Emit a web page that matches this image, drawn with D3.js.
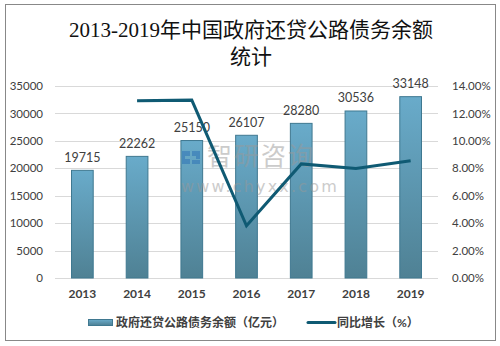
<!DOCTYPE html>
<html><head><meta charset="utf-8">
<script src="https://cdn.jsdelivr.net/npm/d3@7/dist/d3.min.js"></script>
<style>
html,body{margin:0;padding:0;background:#fff;}
svg{display:block;}
</style></head>
<body>
<script>
const years = ["2013","2014","2015","2016","2017","2018","2019"];
const debt = [19715,22262,25150,26107,28280,30536,33148];
const growthYears = ["2014","2015","2016","2017","2018","2019"];
const growth = [0.1292,0.1297,0.0381,0.0832,0.0798,0.0855];
const leftTicks = [0,5000,10000,15000,20000,25000,30000,35000];
const rightTicks = [0,0.02,0.04,0.06,0.08,0.10,0.12,0.14];
const titleLines = ["2013-2019年中国政府还贷公路债务余额","统计"];
const legendLabels = ["政府还贷公路债务余额（亿元）","同比增长（%）"];

const W=500,H=346;
const svg=d3.select("body").append("svg").attr("width",W).attr("height",H);
const defs=svg.append("defs");
const grad=defs.append("linearGradient").attr("id","bg").attr("x1",0).attr("y1",0).attr("x2",0).attr("y2",1);
grad.append("stop").attr("offset","0%").attr("stop-color","#69abca");
grad.append("stop").attr("offset","100%").attr("stop-color","#4f8194");
const lgrad=defs.append("linearGradient").attr("id","lg").attr("x1",0).attr("y1",0).attr("x2",0).attr("y2",1);
lgrad.append("stop").attr("offset","0%").attr("stop-color","#6aaccb");
lgrad.append("stop").attr("offset","100%").attr("stop-color","#4d7f93");

svg.append("rect").attr("x",5.5).attr("y",4.5).attr("width",490).attr("height",336)
  .attr("fill","#fff").attr("stroke","#888").attr("stroke-width",1);

const serif="'Liberation Serif','DejaVu Serif','Noto Sans CJK SC',serif";
const sans="Lato,'Noto Sans CJK SC','Liberation Sans',sans-serif";

svg.selectAll("text.title").data(titleLines).enter().append("text")
  .attr("x",251).attr("y",(d,i)=>37+i*27).attr("text-anchor","middle")
  .attr("font-family",serif).attr("font-size",21).attr("fill","#111")
  .text(d=>d);

const x=d3.scaleBand().domain(years).range([55,438]).paddingInner(0.585).paddingOuter(0.2925);
const y=d3.scaleLinear().domain([0,35000]).range([278,86]);
const y2=d3.scaleLinear().domain([0,0.14]).range([278,86]);

// grid
svg.append("g").selectAll("line").data(leftTicks).enter().append("line")
  .attr("x1",55).attr("x2",438).attr("y1",d=>Math.round(y(d))+0.5).attr("y2",d=>Math.round(y(d))+0.5)
  .attr("stroke","#d9d9d9").attr("stroke-width",1);

// left axis
const la=svg.append("g").attr("transform","translate(46,0)")
  .call(d3.axisLeft(y).tickValues(leftTicks).tickSize(0).tickPadding(3).tickFormat(d3.format("d")));
la.select(".domain").remove();
la.selectAll("text").attr("font-family",sans).attr("font-size",11.5).attr("fill","#404040");

// right axis
const ra=svg.append("g").attr("transform","translate(449,0)")
  .call(d3.axisRight(y2).tickValues(rightTicks).tickSize(0).tickPadding(3).tickFormat(d3.format(".2%")));
ra.select(".domain").remove();
ra.selectAll("text").attr("font-family",sans).attr("font-size",11.5).attr("fill","#404040");

// bottom axis
const ba=svg.append("g").attr("transform","translate(0,278)")
  .call(d3.axisBottom(x).tickSize(0).tickPadding(11));
ba.select(".domain").remove();
ba.selectAll("text").attr("font-family",sans).attr("font-size",12).attr("font-weight","bold").attr("fill","#404040");

// bars
svg.append("g").selectAll("rect").data(debt).enter().append("rect")
  .attr("x",(d,i)=>x(years[i])+0.5).attr("y",d=>y(d)+0.5)
  .attr("width",x.bandwidth()-1).attr("height",d=>y(0)-y(d)-0.5)
  .attr("fill","url(#bg)").attr("stroke","#3f7890").attr("stroke-width",1);

// labels
svg.append("g").selectAll("text").data(debt).enter().append("text")
  .attr("x",(d,i)=>x(years[i])+x.bandwidth()/2).attr("y",d=>y(d)-8)
  .attr("text-anchor","middle").attr("font-family",sans).attr("font-size",12.5)
  .attr("fill","#404040").text(d=>d);

// watermark (over bars)
const wm=svg.append("g").attr("opacity",0.5);
wm.append("path").attr("d","M182,151 h8 v5 h-5 v3 h5 v5 h-8 z M192,151 h8 v8 h-4 v-3 h-4 z M192,160 h8 v4 h-8 z")
  .attr("fill","#2a6fb5");
wm.append("text").attr("x",207).attr("y",165).attr("font-family","'Noto Sans CJK SC',sans-serif")
  .attr("font-size",25).attr("fill","#999").attr("letter-spacing",2).text("智研咨询");
wm.append("text").attr("x",181).attr("y",192).attr("font-family","'DejaVu Sans',sans-serif")
  .attr("font-size",16).attr("fill","#999").attr("letter-spacing",2.2).text("www.chyxx.com");

// line
const line=d3.line().x((d,i)=>x(growthYears[i])+x.bandwidth()/2).y(d=>y2(d));
svg.append("path").datum(growth).attr("d",line).attr("fill","none")
  .attr("stroke","#0f5a73").attr("stroke-width",3).attr("stroke-linejoin","miter");

// legend
const lg=svg.append("g");
lg.append("rect").attr("x",88.5).attr("y",319.5).attr("width",24).attr("height",6)
  .attr("fill","url(#lg)").attr("stroke","#3f7890");
lg.append("text").attr("x",116).attr("y",327).attr("font-family",sans).attr("font-size",12)
  .attr("font-weight","bold").attr("fill","#404040").text(legendLabels[0]);
lg.append("line").attr("x1",308).attr("x2",335).attr("y1",322.5).attr("y2",322.5)
  .attr("stroke","#0f5a73").attr("stroke-width",3).attr("stroke-linecap","round");
lg.append("text").attr("x",337).attr("y",327).attr("font-family",sans).attr("font-size",12)
  .attr("font-weight","bold").attr("fill","#404040").text(legendLabels[1]);
</script>
</body></html>
